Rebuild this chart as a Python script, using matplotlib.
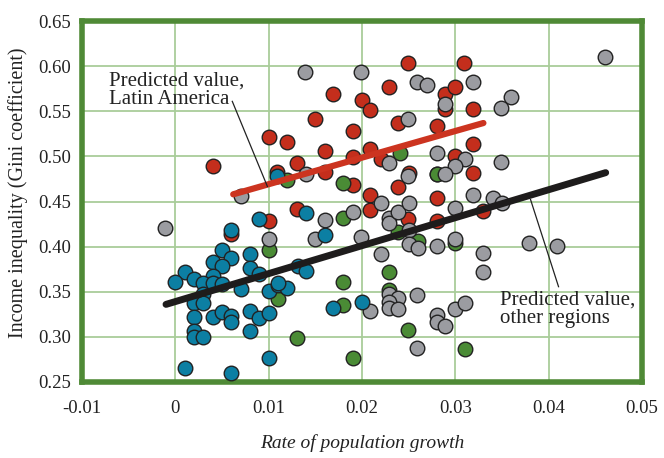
import matplotlib
matplotlib.use("Agg")
import matplotlib.pyplot as plt

# growth rate, gini pairs by region
latin_x = [0.0040, 0.0100, 0.0120, 0.0150, 0.0169, 0.0200, 0.0209, 0.0190, 0.0160, 0.0130,
           0.0190, 0.0109, 0.0160, 0.0190, 0.0229, 0.0249, 0.0239, 0.0209, 0.0309, 0.0289,
           0.0300, 0.0289, 0.0319, 0.0280, 0.0319, 0.0300, 0.0250, 0.0280, 0.0319, 0.0239,
           0.0220, 0.0209, 0.0209, 0.0130, 0.0100, 0.0249, 0.0280, 0.0280, 0.0330, 0.0060]
latin_y = [0.489, 0.521, 0.516, 0.542, 0.569, 0.563, 0.551, 0.528, 0.506, 0.493,
           0.499, 0.483, 0.483, 0.468, 0.577, 0.604, 0.537, 0.508, 0.604, 0.569,
           0.577, 0.552, 0.553, 0.534, 0.514, 0.501, 0.482, 0.480, 0.482, 0.466,
           0.497, 0.457, 0.441, 0.442, 0.428, 0.431, 0.454, 0.428, 0.439, 0.414]

africa_x = [0.0100, 0.0110, 0.0130, 0.0180, 0.0180, 0.0190, 0.0180, 0.0180, 0.0120, 0.0229,
            0.0249, 0.0229, 0.0239, 0.0241, 0.0280, 0.0260, 0.0300, 0.0310]
africa_y = [0.396, 0.342, 0.299, 0.361, 0.335, 0.277, 0.432, 0.471, 0.474, 0.352,
            0.308, 0.372, 0.416, 0.504, 0.481, 0.406, 0.404, 0.287]

other_x = [-0.0011, 0.0070, 0.0100, 0.0139, 0.0199, 0.0249, 0.0140, 0.0229, 0.0249, 0.0190,
           0.0220, 0.0229, 0.0229, 0.0239, 0.0250, 0.0160, 0.0150, 0.0199, 0.0220, 0.0250,
           0.0250, 0.0259, 0.0270, 0.0319, 0.0289, 0.0360, 0.0349, 0.0280, 0.0310, 0.0300,
           0.0349, 0.0289, 0.0460, 0.0319, 0.0340, 0.0350, 0.0300, 0.0260, 0.0280, 0.0300,
           0.0330, 0.0330, 0.0379, 0.0409, 0.0259, 0.0300, 0.0310, 0.0280, 0.0280, 0.0289,
           0.0259, 0.0209, 0.0229, 0.0239, 0.0229, 0.0229, 0.0239]
other_y = [0.421, 0.456, 0.408, 0.594, 0.593, 0.542, 0.480, 0.493, 0.478, 0.438,
           0.448, 0.432, 0.426, 0.438, 0.448, 0.429, 0.409, 0.411, 0.392, 0.418,
           0.403, 0.583, 0.579, 0.583, 0.558, 0.566, 0.554, 0.504, 0.497, 0.489,
           0.494, 0.481, 0.610, 0.457, 0.454, 0.448, 0.443, 0.399, 0.401, 0.408,
           0.393, 0.372, 0.404, 0.401, 0.346, 0.331, 0.337, 0.324, 0.316, 0.312,
           0.288, 0.329, 0.348, 0.343, 0.339, 0.332, 0.331]

asia_x = [0.0090, 0.0060, 0.0050, 0.0080, 0.0040, 0.0060, 0.0050, 0.0080, 0.0090, 0.0010,
          0.0000, 0.0020, 0.0040, 0.0030, 0.0040, 0.0050, 0.0070, 0.0030, 0.0020, 0.0030,
          0.0020, 0.0040, 0.0050, 0.0060, 0.0060, 0.0080, 0.0090, 0.0100, 0.0020, 0.0020,
          0.0030, 0.0080, 0.0010, 0.0060, 0.0100, 0.0100, 0.0110, 0.0120, 0.0110, 0.0131,
          0.0140, 0.0140, 0.0160, 0.0169, 0.0200, 0.0109]
asia_y = [0.431, 0.418, 0.396, 0.392, 0.383, 0.387, 0.379, 0.376, 0.370, 0.372,
          0.361, 0.364, 0.367, 0.360, 0.360, 0.359, 0.353, 0.347, 0.338, 0.338,
          0.322, 0.322, 0.328, 0.323, 0.316, 0.329, 0.321, 0.326, 0.306, 0.300,
          0.300, 0.306, 0.266, 0.260, 0.277, 0.351, 0.357, 0.354, 0.360, 0.378,
          0.373, 0.437, 0.413, 0.332, 0.339, 0.478]

# fitted lines (endpoints)
latin_fit_x = [0.0062, 0.0330]
latin_fit_y = [0.458, 0.537]
other_fit_x = [-0.0010, 0.0461]
other_fit_y = [0.336, 0.482]

xticks = [-0.01, 0, 0.01, 0.02, 0.03, 0.04, 0.05]
xtick_labels = ["-0.01", "0", "0.01", "0.02", "0.03", "0.04", "0.05"]
yticks = [0.25, 0.30, 0.35, 0.40, 0.45, 0.50, 0.55, 0.60, 0.65]

plt.rcParams["font.family"] = ["Liberation Serif", "DejaVu Serif"]

fig = plt.figure(figsize=(6.64, 4.58), dpi=100)
ax = fig.add_axes([0.1235, 0.166, 0.8435, 0.788])

red = "#c42e1c"
grn = "#4a8b35"
gry = "#9b9ca1"
blu = "#0c7fa3"
edge = "#222222"
ms = 110

ax.scatter(latin_x, latin_y, s=ms, c=red, edgecolors=edge, linewidths=1.0, zorder=3)
ax.scatter(africa_x, africa_y, s=ms, c=grn, edgecolors=edge, linewidths=1.0, zorder=4)
ax.scatter(other_x, other_y, s=ms, c=gry, edgecolors=edge, linewidths=1.0, zorder=5)
ax.scatter(asia_x, asia_y, s=ms, c=blu, edgecolors=edge, linewidths=1.0, zorder=6)

ax.plot(latin_fit_x, latin_fit_y, color="#cc3420", lw=4.5, solid_capstyle="round", zorder=8)
ax.plot(other_fit_x, other_fit_y, color="#1e1c1c", lw=5, solid_capstyle="round", zorder=8)

# labels for the two fits
ax.text(-0.00707, 0.5733, "Predicted value,\nLatin America", fontsize=15, ha="left",
        va="center", linespacing=0.92, color="#222222", zorder=9)
ax.plot([0.0061, 0.00986], [0.561, 0.4667], color="#222222", lw=0.9, zorder=9)
ax.text(0.03483, 0.3306, "Predicted value,\nother regions", fontsize=15, ha="left",
        va="center", linespacing=0.92, color="#222222", zorder=9)
ax.plot([0.03805, 0.04105], [0.4522, 0.3556], color="#222222", lw=0.9, zorder=9)

ax.set_xlim(-0.01, 0.05)
ax.set_ylim(0.25, 0.65)
ax.set_xticks(xticks)
ax.set_xticklabels(xtick_labels)
ax.set_yticks(yticks)
ax.set_yticklabels(["%.2f" % v for v in yticks])
ax.tick_params(length=0, labelsize=13.5, colors="#222222", pad=8)
ax.tick_params(axis="x", pad=13)
ax.grid(True, color="#a9cd9a", lw=1.3, zorder=0)
ax.set_axisbelow(True)
for s in ax.spines.values():
    s.set_color("#4f8a36")
    s.set_linewidth(4)

ax.set_xlabel("Rate of population growth", fontsize=14, style="italic",
              color="#222222", labelpad=12)
ax.set_ylabel("Income inequality (Gini coefficient)", fontsize=14.5,
              color="#222222")
ax.yaxis.set_label_coords(-0.097, 0.525)

fig.savefig("out.png", dpi=100)
